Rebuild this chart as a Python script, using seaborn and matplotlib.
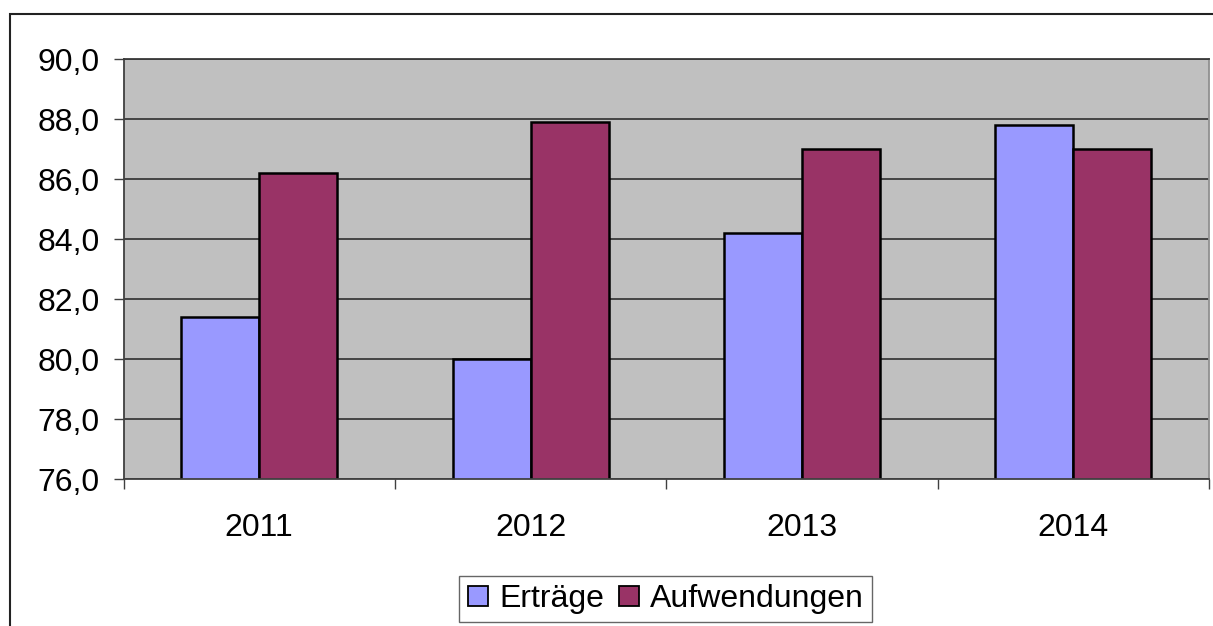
import matplotlib
matplotlib.use("Agg")
import matplotlib.pyplot as plt
from matplotlib.patches import Rectangle
from matplotlib.lines import Line2D
import seaborn as sns
import pandas as pd
import numpy as np

years = ["2011", "2012", "2013", "2014"]
ertraege = [81.4, 80.0, 84.2, 87.8]
aufwendungen = [86.2, 87.9, 87.0, 87.0]
series_names = ["Erträge", "Aufwendungen"]
colors = ["#9999FF", "#993366"]
yticks = [76, 78, 80, 82, 84, 86, 88, 90]
ytick_labels = ["76,0", "78,0", "80,0", "82,0", "84,0", "86,0", "88,0", "90,0"]

df = pd.DataFrame({
    "Jahr": years * 2,
    "Wert": ertraege + aufwendungen,
    "Serie": [series_names[0]] * len(years) + [series_names[1]] * len(years),
})

sns.set_theme(style="white")
plt.rcParams["font.family"] = ["Liberation Sans", "DejaVu Sans"]
plt.rcParams["text.color"] = "black"

FS = 23

fig = plt.figure(figsize=(12.13, 6.26), dpi=100)
ax = fig.add_axes([123.5 / 1213, 1 - 479.3 / 626, (1209 - 123.5) / 1213, (479.3 - 59.3) / 626])

sns.barplot(data=df, x="Jahr", y="Wert", hue="Serie", palette=colors,
            width=0.575, edgecolor="black", linewidth=1.8, ax=ax,
            legend=False, saturation=1)

ax.set_facecolor("#C0C0C0")
ax.set_ylim(76, 90)
ax.set_xlim(-0.5, len(years) - 0.5)
ax.set_yticks(yticks)
ax.set_yticklabels(ytick_labels)
ax.set_axisbelow(True)
ax.yaxis.grid(True, color="#3a3a3a", linewidth=1.3)
ax.xaxis.grid(False)
ax.set_xlabel("")
ax.set_ylabel("")

ax.tick_params(axis="y", which="major", length=7, width=1, color="#404040",
               direction="out", left=True, pad=10, labelsize=FS, labelcolor="black")
ax.tick_params(axis="x", which="major", length=0, pad=24, labelsize=FS, labelcolor="black")
ax.set_xticks(np.arange(-0.5, len(years), 1.0), minor=True)
ax.tick_params(axis="x", which="minor", length=7, width=1, color="#404040",
               direction="out", bottom=True)

for side in ["left", "bottom"]:
    ax.spines[side].set_color("#404040")
    ax.spines[side].set_linewidth(1.3)
ax.spines["top"].set_color("#3a3a3a")
ax.spines["top"].set_linewidth(1.3)
ax.spines["right"].set_color("#909090")
ax.spines["right"].set_linewidth(1.3)

handles = [Line2D([0], [0], marker="s", linestyle="none", markersize=14,
                  markerfacecolor=c, markeredgecolor="black", markeredgewidth=1.3)
           for c in colors]
leg = fig.legend(handles, series_names, loc="center",
                 bbox_to_anchor=(665.5 / 1213, 1 - 599 / 626),
                 ncol=2, fontsize=FS, frameon=True, fancybox=False,
                 edgecolor="#404040", handlelength=0.7, handletextpad=0.3,
                 columnspacing=0.45, borderpad=0.25, borderaxespad=0,
                 labelcolor="black")
leg.get_frame().set_linewidth(1.0)

fig.patches.append(Rectangle((10 / 1213, -0.1), 1.2, 1 - 14 / 626 + 0.1,
                             transform=fig.transFigure, fill=False,
                             edgecolor="#222222", linewidth=1.5))

fig.savefig("out.png", dpi=100)
